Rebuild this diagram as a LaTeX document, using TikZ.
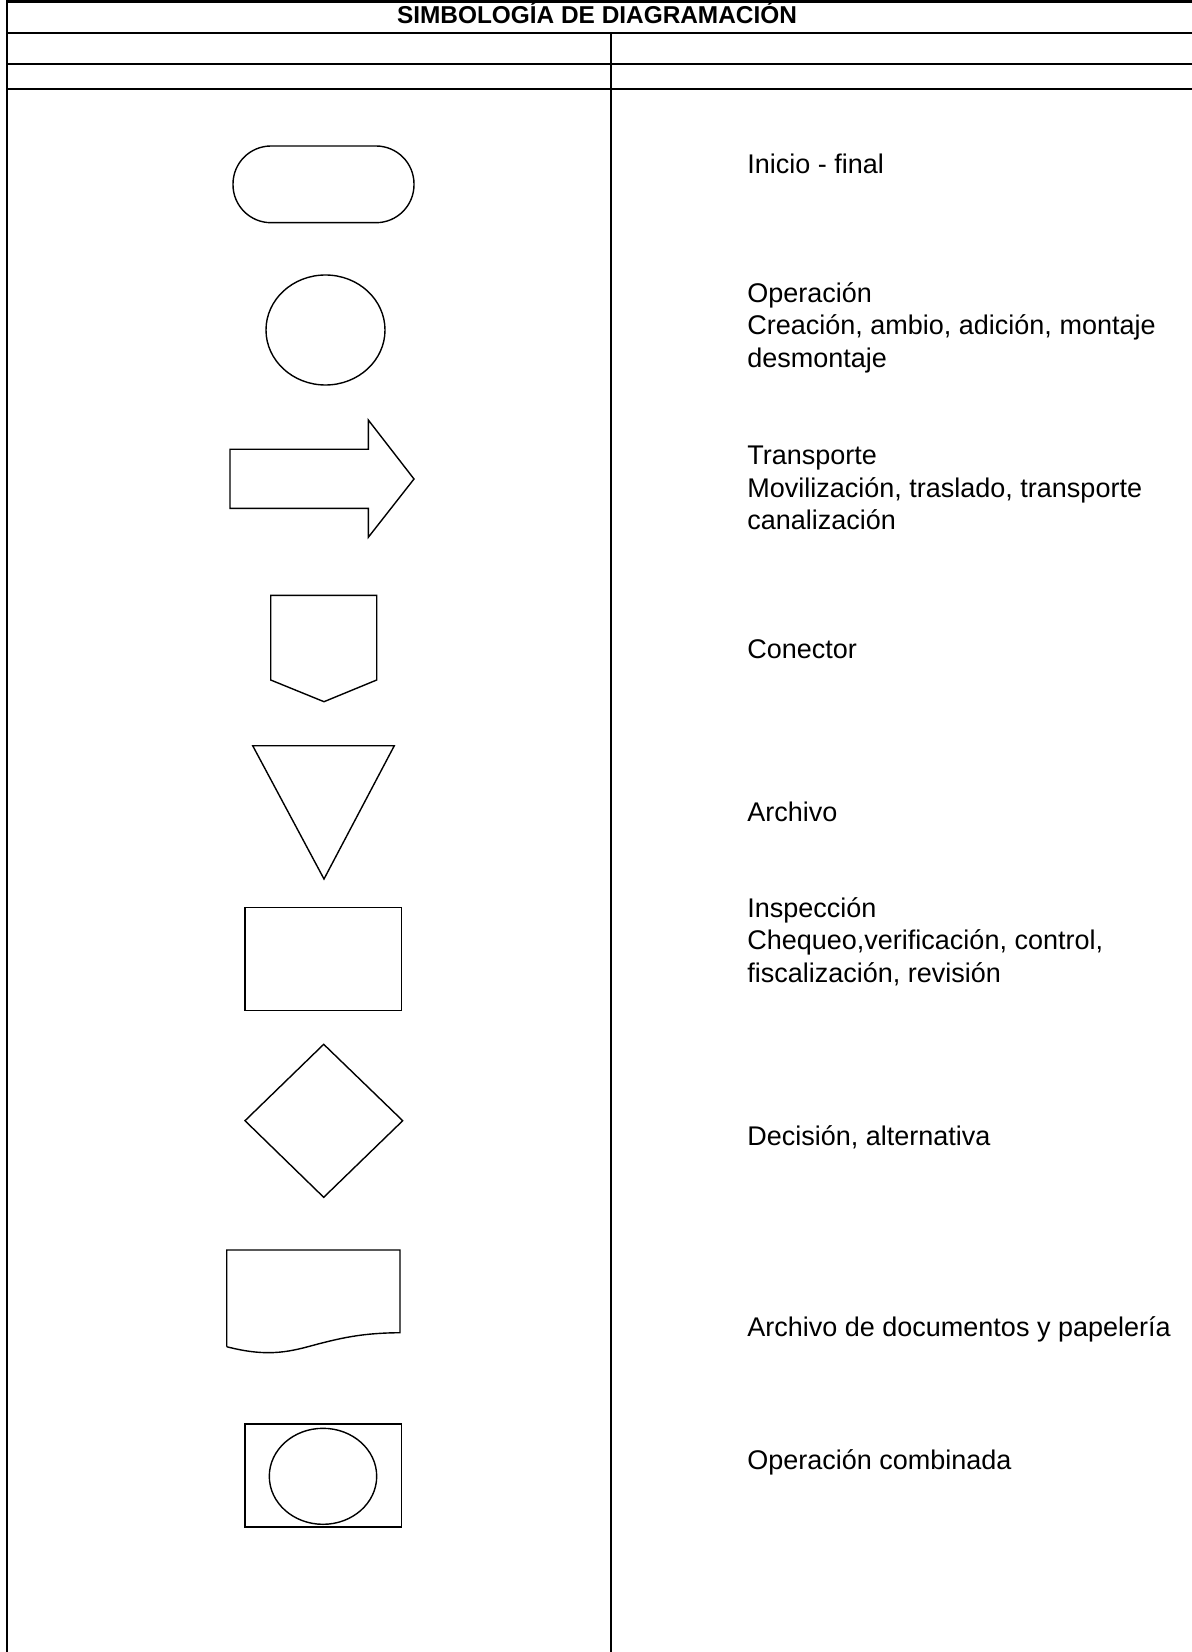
\documentclass[tikz,border=0pt]{standalone}
\usepackage{fontspec}
\setmainfont{Liberation Sans}
\begin{document}
\begin{tikzpicture}[x=0.5pt,y=-0.5pt,
  frame/.style={line width=1.3pt,black},
  shp/.style={line width=0.7pt,black},
  lbl/.style={anchor=base west,inner sep=0pt,font=\fontsize{13.5pt}{16.25pt}\selectfont},
  ttl/.style={anchor=base,inner sep=0pt,font=\fontsize{12.2pt}{14pt}\selectfont\bfseries}]
\useasboundingbox (0,0) rectangle (1191,1652);
% table frame
\draw[frame] (7,1.3) -- (1195,1.3);
\draw[frame] (7,0) -- (7,1655);
\draw[frame] (7,33) -- (1195,33);
\draw[frame] (7,64) -- (1195,64);
\draw[frame] (7,89) -- (1195,89);
\draw[frame] (611,33) -- (611,1655);
\node[ttl] (title) at (597,23.3) {SIMBOLOGÍA DE DIAGRAMACIÓN};
% symbols
\draw[shp,rounded corners=19pt] (233,146) rectangle (414,222.7);
\draw[shp] (325.5,330) ellipse [x radius=59.5,y radius=55];
\draw[shp] (230,449.3) -- (368.3,449.3) -- (368.3,420) -- (414,479) -- (368.3,537.3) -- (368.3,508.3) -- (230,508.3) -- cycle;
\draw[shp] (270.7,595.3) -- (376.7,595.3) -- (376.7,680) -- (324,701.7) -- (270.7,680) -- cycle;
\draw[shp] (252.7,745.7) -- (394.3,745.7) -- (324,879) -- cycle;
\draw[shp] (245,907.7) rectangle (401.3,1010.7);
\draw[shp] (323.7,1044.3) -- (402.7,1120.7) -- (323.7,1197.3) -- (245,1120.7) -- cycle;
\draw[shp] (226.7,1346.7) -- (226.7,1250) -- (400,1250) -- (400,1332.7)
  .. controls (365,1333) and (345,1337) .. (318,1344)
  .. controls (292,1351) and (270,1358) .. (226.7,1346.7);
\draw[shp] (245,1424) rectangle (401.3,1527);
\draw[shp] (323,1476.3) ellipse [x radius=53.7,y radius=48];
% labels
\node[lbl] (t1) at (747,173.4) {Inicio - final};
\node[lbl] (t2a) at (747,302.5) {Operación};
\node[lbl] (t2b) at (747,335) {Creación, ambio, adición, montaje};
\node[lbl] (t2c) at (747,367.5) {desmontaje};
\node[lbl] (t3a) at (747,464.5) {Transporte};
\node[lbl] (t3b) at (747,497) {Movilización, traslado, transporte};
\node[lbl] (t3c) at (747,529.5) {canalización};
\node[lbl] (t4) at (747,658.5) {Conector};
\node[lbl] (t5) at (747,821) {Archivo};
\node[lbl] (t6a) at (747,917) {Inspección};
\node[lbl] (t6b) at (747,949.5) {Chequeo,verificación, control,};
\node[lbl] (t6c) at (747,982) {fiscalización, revisión};
\node[lbl] (t7) at (747,1145.5) {Decisión, alternativa};
\node[lbl] (t8) at (747,1336) {Archivo de documentos y papelería};
\node[lbl] (t9) at (747,1469) {Operación combinada};
\end{tikzpicture}
\end{document}
